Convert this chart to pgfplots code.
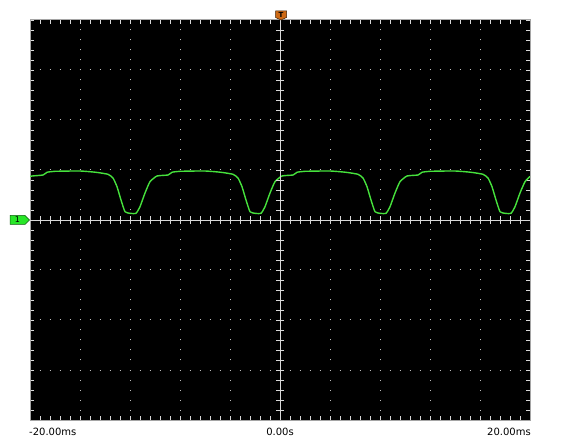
\documentclass[border=0pt]{standalone}
\usepackage{pgfplots}
\pgfplotsset{compat=1.18}
\usepackage{fontspec}
\setmainfont{DejaVu Sans}
\definecolor{trace}{RGB}{70,225,60}
\definecolor{frame}{RGB}{165,165,165}
\definecolor{tickc}{RGB}{215,215,215}
\definecolor{dotc}{RGB}{190,190,190}
\definecolor{trig}{RGB}{205,105,20}
\definecolor{chan}{RGB}{40,230,40}
\begin{document}
\begin{tikzpicture}[x=1pt,y=1pt]
\path[use as bounding box, fill=white] (0,0) rectangle (561,441);
\begin{axis}[
    at={(30pt,21pt)}, anchor=south west,
    scale only axis, width=500pt, height=400pt,
    xmin=-25, xmax=25, ymin=-4, ymax=4,
    xtick={-25,-20,...,25}, ytick={-4,-3,...,4},
    xticklabels={}, yticklabels={},
    minor x tick num=4, minor y tick num=4,
    tick align=inside,
    major tick length=4pt, minor tick length=4pt,
    every tick/.style={draw=tickc, line width=0.8pt},
    grid=major,
    major grid style={draw=dotc, line width=1pt, dash pattern=on 1pt off 9pt, dash phase=0.5pt},
    axis background/.style={fill=black},
    axis line style={draw=frame, line width=1pt},
    clip=true,
]
\addplot[trace, line width=1.4pt, smooth, tension=0.3] coordinates {
    (-25.0,0.870) (-24.8,0.880) (-23.7,0.900) (-23.3,0.954) (-22.5,0.974)
    (-20.0,0.980) (-18.4,0.954) (-17.2,0.914) (-16.7,0.840) (-16.3,0.666)
    (-15.9,0.400) (-15.5,0.166) (-15.0,0.134) (-14.4,0.134) (-14.0,0.266)
    (-13.5,0.540) (-13.0,0.766) (-12.3,0.880) (-11.2,0.900) (-10.8,0.954)
    (-10.0,0.974)
    (-7.5,0.980) (-5.9,0.954) (-4.7,0.914) (-4.2,0.840) (-3.8,0.666)
    (-3.4,0.400) (-3.0,0.166) (-2.5,0.134) (-1.9,0.134) (-1.5,0.266)
    (-1.0,0.540) (-0.5,0.766) (0.2,0.880) (1.3,0.900) (1.7,0.954)
    (2.5,0.974)
    (5.0,0.980) (6.6,0.954) (7.8,0.914) (8.3,0.840) (8.7,0.666)
    (9.1,0.400) (9.5,0.166) (10.0,0.134) (10.6,0.134) (11.0,0.266)
    (11.5,0.540) (12.0,0.766) (12.7,0.880) (13.8,0.900) (14.2,0.954)
    (15.0,0.974)
    (17.5,0.980) (19.1,0.954) (20.3,0.914) (20.8,0.840) (21.2,0.666)
    (21.6,0.400) (22.0,0.166) (22.5,0.134) (23.1,0.134) (23.5,0.266)
    (24.0,0.540) (24.5,0.766) (25.0,0.870)
};
\end{axis}
% centre cross of the graticule
\draw[tickc, line width=0.8pt] (30,221) -- (530,221);
\draw[tickc, line width=0.8pt] (280,21) -- (280,421);
\foreach \i in {1,...,49} \draw[tickc, line width=0.8pt] (30+10*\i,217) -- ++(0,8);
\foreach \j in {1,...,39} \draw[tickc, line width=0.8pt] (276,21+10*\j) -- ++(8,0);
% time labels
\node[font=\fontsize{10}{12}\selectfont, anchor=west, inner sep=0pt] at (29,9) {-20.00ms};
\node[font=\fontsize{10}{12}\selectfont, anchor=center, inner sep=0pt] at (280,9) {0.00s};
\node[font=\fontsize{10}{12}\selectfont, anchor=east, inner sep=0pt] at (531,9) {20.00ms};
% trigger marker
\draw[fill=trig, draw=black!70!trig, line width=0.5pt] (275.5,430) -- (286.5,430) -- (286.5,423.5) -- (281,421) -- (275.5,423.5) -- cycle;
\node[font=\fontsize{7}{7}\selectfont\bfseries, inner sep=0pt] at (281,426.3) {T};
% channel 1 marker
\draw[fill=chan, draw=black!60!chan, line width=0.5pt] (10,216.5) -- (25,216.5) -- (29.5,221) -- (25,225.5) -- (10,225.5) -- cycle;
\node[font=\fontsize{8}{8}\selectfont, inner sep=0pt] at (17.5,221) {1};
\end{tikzpicture}
\end{document}
